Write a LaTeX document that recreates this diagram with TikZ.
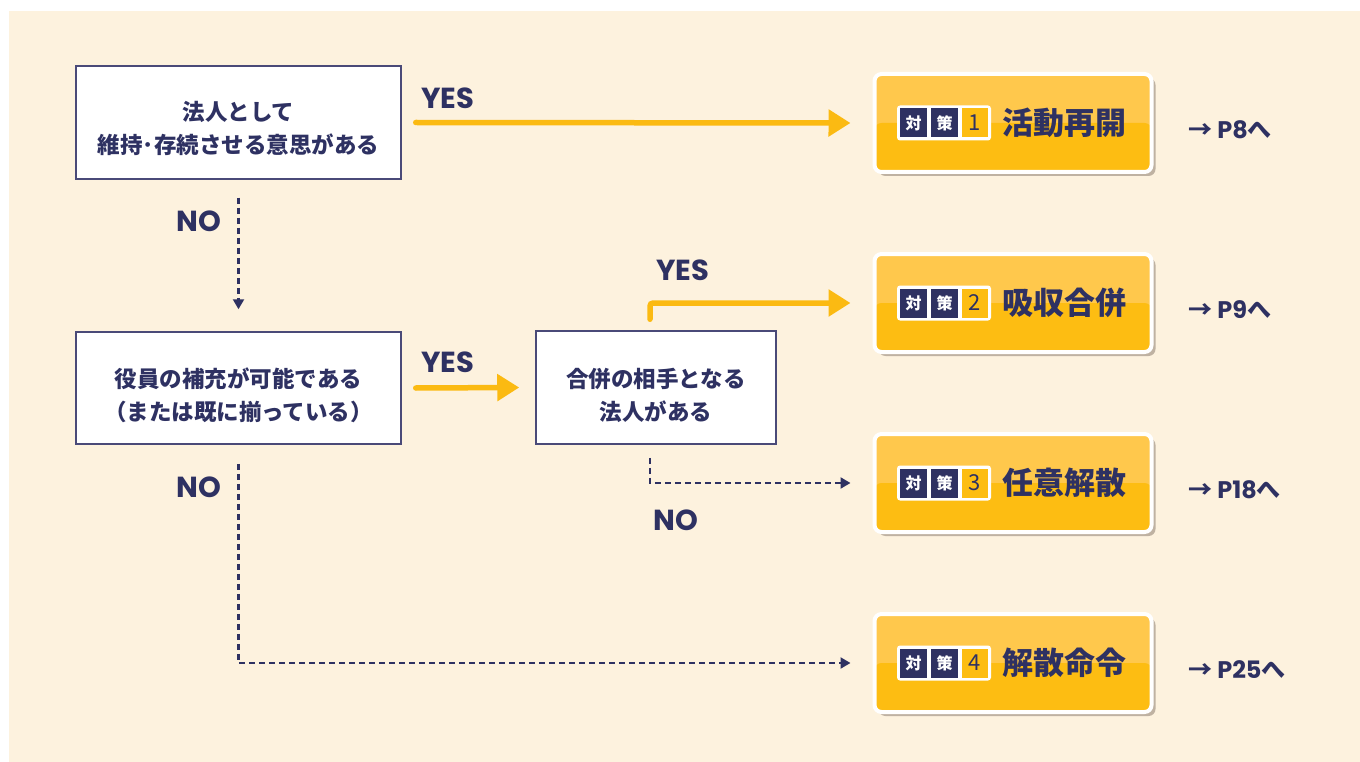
\documentclass[tikz,border=0pt]{standalone}
\usepackage{fontspec}
\usetikzlibrary{calc,arrows.meta,shadows}
\newfontfamily\jp{Noto Sans CJK JP}
\newfontfamily\lat{Poppins}
\definecolor{bgc}{HTML}{FDF2DE}
\definecolor{navy}{HTML}{2E3162}
\definecolor{boxline}{HTML}{4A4A78}
\definecolor{yarr}{HTML}{FBBA12}
\definecolor{ytop}{HTML}{FFC84C}
\definecolor{ybot}{HTML}{FDBD12}
\definecolor{shad}{HTML}{BFB2A2}
\tikzset{
  qbox/.style={draw=boxline, line width=1.5pt, fill=white, inner sep=0pt},
  qtext/.style={align=center, text=navy, font=\jp\bfseries\fontsize{22.5}{33}\selectfont, inner sep=0pt},
  resbox/.style={draw=white, line width=4pt, rounded corners=7pt, minimum width=277pt,
    minimum height=98pt, fill=ytop, inner sep=0pt,
    drop shadow={shadow xshift=4pt, shadow yshift=-4pt, fill=shad, opacity=1},
    path picture={\fill[ybot] (path picture bounding box.west) rectangle (path picture bounding box.south east);}},
  badgeouter/.style={fill=white, rounded corners=3pt, minimum width=94pt, minimum height=35pt, inner sep=0pt},
  cell/.style={fill=navy, text=white, minimum width=27pt, minimum height=29pt, inner sep=0pt,
    font=\jp\bfseries\fontsize{16}{16}\selectfont},
  numcell/.style={fill=ybot, text=navy, minimum width=26pt, minimum height=29pt, inner sep=0pt,
    font=\jp\fontsize{22}{22}\selectfont},
  restitle/.style={text=navy, font=\jp\bfseries\fontsize{31}{31}\selectfont, inner sep=0pt, anchor=west},
  pagelbl/.style={text=navy, font=\lat\bfseries\fontsize{24}{24}\selectfont, inner sep=0pt, anchor=west},
  lbl/.style={text=navy, font=\lat\bfseries\fontsize{29}{29}\selectfont, inner sep=0pt},
  yarrow/.style={draw=yarr, line width=5.5pt, line cap=round, -{Triangle[length=22pt,width=26pt]}},
  narrow/.style={draw=navy, line width=2.2pt, dash pattern=on 6pt off 4pt, -{Triangle[length=10pt,width=11pt]}},
}
\newcommand\resultbox[5]{%
  \node[resbox] (R#1) at (1013,#2) {};
  \node[badgeouter] (bd#1) at (944,#2) {};
  \node[cell] (ca#1) at (913.5,#2) {対};
  \node[cell] (cb#1) at (944.5,#2) {策};
  \node[numcell] (cn#1) at (975,#2) {#3};
  \node[restitle] (t#1) at (1002,#2) {#4};
  \node[pagelbl] (p#1) at (1188,#2+7) {{\jp →} #5{\jp へ}};
}
\begin{document}
\begin{tikzpicture}[x=1pt,y=-1pt]
\useasboundingbox (0,0) rectangle (1360,762);
\fill[bgc] (9,11) rectangle (1360,762);

\node[qbox, minimum width=325pt, minimum height=113pt] (A) at (238.5,122.5) {};
\node[qtext] (At) at (238.5,128) {法人として\\維持･存続させる意思がある};
\node[qbox, minimum width=325pt, minimum height=112pt] (B) at (238.5,388) {};
\node[qtext] (Bt) at (238.5,395) {役員の補充が可能である\\（または既に揃っている）};
\node[qbox, minimum width=240pt, minimum height=113pt] (C) at (656,387.5) {};
\node[qtext] (Ct) at (656,395) {合併の相手となる\\法人がある};

\resultbox{1}{123}{1}{活動再開}{P8}
\resultbox{2}{303}{2}{吸収合併}{P9}
\resultbox{3}{483}{3}{任意解散}{P18}
\resultbox{4}{663}{4}{解散命令}{P25}

% connectors
\draw[yarrow] ($(A.east)+(14,0)$) -- ($(R1.west)+(-22,0)$);
\draw[narrow] ($(A.south)+(0,18)$) -- ($(B.north)+(0,-22)$);
\draw[yarrow] ($(B.east)+(14,0)$) -- ($(C.west)+(-16,0)$);
\draw[yarrow, rounded corners=3pt] ($(C.north)+(-6,-11)$) |- ($(R2.west)+(-22,0)$);
\draw[narrow] ($(C.south)+(-6,13)$) |- ($(R3.west)+(-22,0)$);
\draw[narrow] ($(B.south)+(0,19)$) |- ($(R4.west)+(-22,0)$);

% labels
\node[lbl] (y1) at (448,98) {YES};
\node[lbl] (y2) at (448,362) {YES};
\node[lbl] (y3) at (683,270) {YES};
\node[lbl] (n1) at (199,221) {NO};
\node[lbl] (n2) at (199,487) {NO};
\node[lbl] (n3) at (676,520) {NO};
\end{tikzpicture}
\end{document}
